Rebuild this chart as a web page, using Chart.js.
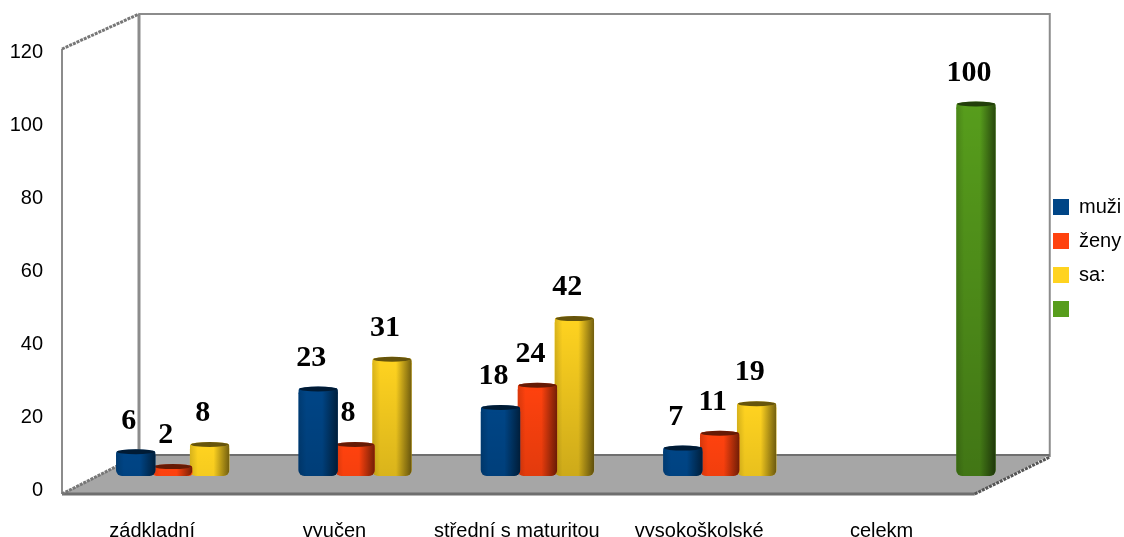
<html>
<head>
  <script src="https://cdn.jsdelivr.net/npm/chart.js"></script>
  <style>
    body { margin: 0; background: #fff; }
  </style>
</head>
<body>
  <canvas id="bars" width="1124" height="537"></canvas>
  <script>
    const categories = ['zádkladní', 'vyučen', 'střední s maturitou', 'vysokoškolské', 'celekm'];
    const muzi = [6, 23, 18, 7, null];
    const zeny = [2, 8, 24, 11, null];
    const sa = [8, 31, 42, 19, null];
    const celkem = [null, null, null, null, 100];

    const sansFont = '"Liberation Sans", Arial, sans-serif';
    const serifFont = '"Liberation Serif", "Times New Roman", serif';

    // the "3d" box around the plot, as offsets from the chart area
    const frame = { frontL: -38, backL: 39, frontR: -37, backR: 38, wallTop: -38, floorBack: -35, floorFront: 4 };
    const capRise = 3; // cylinder top sticks out above the value

    const box3d = {
      id: 'box3d',
      afterLayout(chart) {
        // legend sits further right than the layout puts it
        const lg = chart.legend;
        lg.left = 1039;
        lg.right = 1124;
        lg.top = 183;
        lg.bottom = 400;
      },
      beforeDatasetsDraw(chart) {
        const c = chart.ctx, a = chart.chartArea;
        const fl = a.left + frame.frontL, bl = a.left + frame.backL;
        const fr = a.right + frame.frontR, br = a.right + frame.backR;
        const top = a.top + frame.wallTop, back = a.bottom + frame.floorBack, front = a.bottom + frame.floorFront;
        c.save();
        // floor
        c.fillStyle = '#a6a6a6';
        c.beginPath();
        c.moveTo(fl, front); c.lineTo(fr, front); c.lineTo(br, back); c.lineTo(bl, back);
        c.closePath();
        c.fill();
        // walls
        c.strokeStyle = '#8c8c8c';
        c.lineWidth = 3;
        c.beginPath(); c.moveTo(bl, top); c.lineTo(bl, back); c.stroke();
        c.lineWidth = 2;
        c.beginPath(); c.moveTo(bl, top); c.lineTo(br, top); c.lineTo(br, back + 2); c.stroke();
        c.beginPath(); c.moveTo(fl, a.top - 3); c.lineTo(fl, front); c.stroke();
        c.strokeStyle = '#6f6f6f';
        c.beginPath(); c.moveTo(bl, back); c.lineTo(br, back); c.stroke();
        c.lineWidth = 3;
        c.beginPath(); c.moveTo(fl, front); c.lineTo(fr, front); c.stroke();
        // jagged diagonals
        c.setLineDash([3, 1]);
        c.lineWidth = 3;
        c.strokeStyle = '#777';
        c.beginPath(); c.moveTo(fl, a.top - 3); c.lineTo(bl, top); c.stroke();
        c.beginPath(); c.moveTo(fl, front); c.lineTo(bl, back); c.stroke();
        c.strokeStyle = '#555';
        c.beginPath(); c.moveTo(fr, front); c.lineTo(br, back + 2); c.stroke();
        c.restore();
      },
      afterDatasetDraw(chart, args) {
        // cylinder shading on top of the flat bars
        const c = chart.ctx;
        args.meta.data.forEach((bar, i) => {
          if (chart.data.datasets[args.index].data[i] == null) return;
          const { x, y, base, width } = bar.getProps(['x', 'y', 'base', 'width'], true);
          const l = x - width / 2, t = y - capRise, h = base - t;
          c.save();
          c.beginPath();
          c.roundRect(l, t, width, h, [3, 3, 6, 6]);
          c.clip();
          c.fillStyle = bar.options.backgroundColor;
          c.fillRect(l, t, width, capRise + 3);
          const side = c.createLinearGradient(l, 0, l + width, 0);
          side.addColorStop(0, 'rgba(0,0,0,0.15)');
          side.addColorStop(0.2, 'rgba(0,0,0,0)');
          side.addColorStop(0.6, 'rgba(0,0,0,0)');
          side.addColorStop(1, 'rgba(0,0,0,0.55)');
          c.fillStyle = side;
          c.fillRect(l, t, width, h);
          const down = c.createLinearGradient(0, t, 0, base);
          down.addColorStop(0, 'rgba(0,0,0,0)');
          down.addColorStop(1, 'rgba(0,0,0,' + Math.min(0.25, h / 800) + ')');
          c.fillStyle = down;
          c.fillRect(l, t, width, h);
          c.restore();
          // top cap
          c.save();
          c.fillStyle = bar.options.backgroundColor;
          c.beginPath();
          c.ellipse(x, t + 1, width / 2 - 1, 2.5, 0, 0, Math.PI * 2);
          c.fill();
          c.fillStyle = 'rgba(0,0,0,0.6)';
          c.fill();
          c.restore();
        });
      },
      afterDatasetsDraw(chart) {
        // value labels
        const c = chart.ctx;
        c.save();
        c.font = 'bold 30px ' + serifFont;
        c.fillStyle = '#000';
        c.textAlign = 'center';
        c.textBaseline = 'middle';
        chart.data.datasets.forEach((ds, d) => {
          chart.getDatasetMeta(d).data.forEach((bar, i) => {
            if (ds.data[i] == null) return;
            c.fillText(ds.data[i], bar.x - 7, bar.y - 33);
          });
        });
        c.restore();
      }
    };

    function series(label, data, color) {
      return {
        label: label,
        data: data,
        backgroundColor: color,
        yAxisID: 'y1',
        borderWidth: 0,
        borderRadius: { topLeft: 3, topRight: 3, bottomLeft: 6, bottomRight: 6 },
        borderSkipped: false
      };
    }

    new Chart(document.getElementById('bars'), {
      type: 'bar',
      data: {
        labels: categories,
        datasets: [
          series('muži', muzi, '#004586'),
          series('ženy', zeny, '#ff420e'),
          series('sa:', sa, '#ffd320'),
          series('', celkem, '#579d1c')
        ]
      },
      options: {
        responsive: false,
        animation: false,
        categoryPercentage: 0.81,
        barPercentage: 1.07,
        layout: { autoPadding: false, padding: { top: 52, right: 20, left: 0, bottom: 0 } },
        plugins: {
          legend: {
            position: 'right',
            align: 'start',
            labels: {
              boxWidth: 16,
              boxHeight: 16,
              padding: 14,
              color: '#000',
              font: { family: sansFont, size: 20 }
            }
          },
          tooltip: { enabled: false }
        },
        scales: {
          x: {
            grid: { display: false },
            border: { display: false },
            afterFit(s) { s.height = 47; },
            ticks: {
              maxRotation: 0,
              autoSkip: false,
              padding: 21,
              labelOffset: -39,
              color: '#000',
              font: { family: sansFont, size: 20 }
            }
          },
          y: {
            min: 0,
            max: 120,
            grid: { display: false, drawTicks: false },
            border: { display: false },
            afterFit(s) {
              // tick padding would otherwise also shrink the plot height
              s.width = 100;
              s.paddingTop = 0;
              s.paddingBottom = 0;
            },
            ticks: {
              stepSize: 20,
              padding: 57,
              color: '#000',
              font: { family: sansFont, size: 20 }
            }
          },
          // bars stand further back in the box than the printed axis
          y1: {
            display: false,
            position: 'left',
            min: -3.78,
            max: 114.6
          }
        }
      },
      plugins: [box3d]
    });
  </script>
</body>
</html>
